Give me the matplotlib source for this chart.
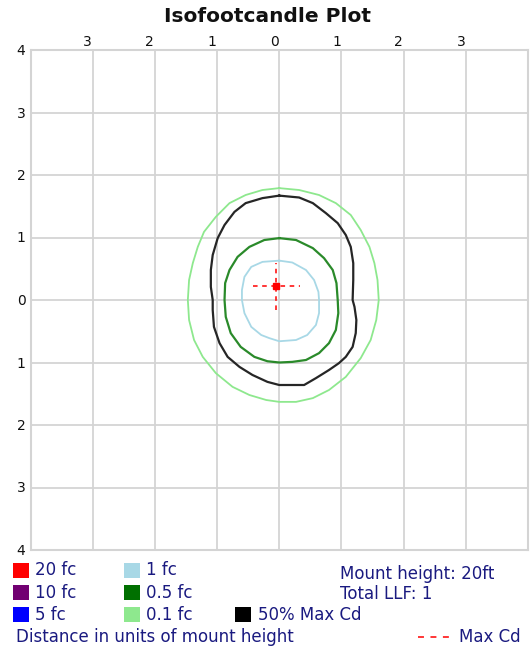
import matplotlib
matplotlib.use("Agg")
import matplotlib.pyplot as plt
from matplotlib.patches import Rectangle
from matplotlib.lines import Line2D
import matplotlib.transforms as mtransforms

# ---- data: contour outlines in units of mount height ----
lgreen_x = [0, 0.32, 0.64, 0.91, 1.15, 1.31, 1.45, 1.53, 1.58, 1.60,
            1.56, 1.47, 1.31, 1.07, 0.80, 0.54, 0.27, 0,
            -0.21, -0.48, -0.75, -1.02, -1.23, -1.37, -1.45, -1.47,
            -1.45, -1.39, -1.31, -1.21, -1.02, -0.80, -0.54, -0.27, 0]
lgreen_y = [1.79, 1.76, 1.68, 1.55, 1.36, 1.12, 0.85, 0.59, 0.32, 0,
            -0.32, -0.64, -0.93, -1.23, -1.44, -1.57, -1.63, -1.63,
            -1.60, -1.52, -1.39, -1.17, -0.91, -0.64, -0.32, 0,
            0.32, 0.59, 0.85, 1.09, 1.33, 1.55, 1.68, 1.76, 1.79]

black_x = [0, 0.32, 0.54, 0.75, 0.94, 1.07, 1.15, 1.19, 1.19, 1.18,
           1.21, 1.24, 1.23, 1.18, 1.07, 0.96, 0.80, 0.59, 0.40, 0,
           -0.19, -0.43, -0.64, -0.83, -0.96, -1.05, -1.07, -1.07,
           -1.10, -1.10, -1.07, -0.99, -0.88, -0.72, -0.54, -0.27, 0]
black_y = [1.67, 1.64, 1.55, 1.39, 1.23, 1.04, 0.85, 0.59, 0.32, 0,
           -0.11, -0.32, -0.53, -0.75, -0.91, -1.01, -1.12, -1.25, -1.36, -1.36,
           -1.31, -1.20, -1.07, -0.91, -0.69, -0.43, -0.16, 0,
           0.21, 0.48, 0.72, 0.99, 1.20, 1.41, 1.55, 1.63, 1.67]

green_x = [0, 0.27, 0.54, 0.72, 0.86, 0.92, 0.94,
           0.95, 0.91, 0.80, 0.64, 0.43, 0.21, 0,
           -0.19, -0.40, -0.62, -0.78, -0.86, -0.88,
           -0.87, -0.80, -0.67, -0.48, -0.24, 0]
green_y = [0.99, 0.96, 0.83, 0.67, 0.48, 0.27, 0,
           -0.21, -0.48, -0.69, -0.85, -0.96, -0.99, -1.00,
           -0.98, -0.91, -0.75, -0.53, -0.27, 0,
           0.27, 0.48, 0.69, 0.85, 0.96, 0.99]

blue_x = [0, 0.21, 0.43, 0.56, 0.63, 0.64,
          0.64, 0.59, 0.45, 0.27, 0,
          -0.16, -0.29, -0.45, -0.56, -0.60,
          -0.60, -0.56, -0.45, -0.27, 0]
blue_y = [0.63, 0.60, 0.48, 0.32, 0.13, 0,
          -0.21, -0.40, -0.56, -0.64, -0.66,
          -0.61, -0.56, -0.43, -0.21, 0,
          0.16, 0.37, 0.53, 0.61, 0.63]

max_cd_x = -0.05
max_cd_y = 0.22
cross_half = 0.38

tick_vals = [-3, -2, -1, 0, 1, 2, 3]
ytick_vals = [4, 3, 2, 1, 0, -1, -2, -3, -4]

legend_labels = ["20 fc", "10 fc", "5 fc", "1 fc", "0.5 fc", "0.1 fc", "50% Max Cd"]
legend_colors = ["#ff0000", "#720072", "#0000ff", "#a8d8e6", "#007000", "#8ee88e", "#000000"]

W, H = 531, 650
plt.rcParams['font.family'] = ['DejaVu Sans']
fig = plt.figure(figsize=(W / 100, H / 100), dpi=100)


def fx(px):
    return px / W


def fy(py):
    return 1 - py / H


ax = fig.add_axes([fx(30.5), fy(550), (528 - 30.5) / W, 500 / H])
ax.set_xlim(-4, 4)
ax.set_ylim(-4, 4)
grid_c = "#d4d4d4"
for s in ax.spines.values():
    s.set_color(grid_c)
    s.set_linewidth(1.5)
for v in tick_vals:
    ax.axvline(v, color=grid_c, lw=1.3, zorder=0)
for v in ytick_vals[1:-1]:
    ax.axhline(v, color=grid_c, lw=1.3, zorder=0)
ax.set_xticks([])
ax.set_yticks([])

ax.plot(lgreen_x, lgreen_y, color="#8ee88e", lw=1.3)
ax.plot(black_x, black_y, color="#262626", lw=1.6)
ax.plot(green_x, green_y, color="#2a8a2a", lw=1.6)
ax.plot(blue_x, blue_y, color="#a8d8e6", lw=1.3)

ax.plot([max_cd_x - cross_half, max_cd_x + cross_half], [max_cd_y, max_cd_y], color="#ff0000", ls=(0, (3, 3)), lw=1.1)
ax.plot([max_cd_x, max_cd_x], [max_cd_y - cross_half, max_cd_y + cross_half], color="#ff0000", ls=(0, (3, 3)), lw=1.1)
ax.plot([max_cd_x], [max_cd_y], marker="s", ms=5, color="#ff0000", ls="none")

# tick labels
offs = mtransforms.ScaledTranslation(-5 / 100, 8 / 100, fig.dpi_scale_trans)
trans = mtransforms.blended_transform_factory(ax.transData, ax.transAxes) + offs
for v in tick_vals:
    ax.text(v, 1, str(abs(v)), transform=trans, ha="center", va="center",
            fontsize=10, color="#111111", clip_on=False)
for v in ytick_vals:
    fig.text(fx(21), fy(300 - v * 62.5 + 1), str(abs(v)), ha="center", va="center",
             fontsize=10, color="#111111")

fig.text(fx(268), fy(17), "Isofootcandle Plot", ha="center", va="center",
         fontsize=14.5, fontweight="bold", color="#111111")

txt_c = "#1a1a80"
fs = 12
cols = [(13, 35), (124, 146), (235, 258)]
rows = [570, 592.5, 614.5]
positions = [(0, 0), (0, 1), (0, 2), (1, 0), (1, 1), (1, 2), (2, 2)]
for (ci, ri), lab, col in zip(positions, legend_labels, legend_colors):
    sx, tx = cols[ci]
    y = rows[ri]
    fig.patches.append(Rectangle((fx(sx), fy(y + 7.5)), 16 / W, 15 / H, transform=fig.transFigure,
                                 facecolor=col, edgecolor="none"))
    fig.text(fx(tx), fy(y), lab, ha="left", va="center", fontsize=fs, color=txt_c)

fig.text(fx(340), fy(574), "Mount height: 20ft", ha="left", va="center", fontsize=fs, color=txt_c)
fig.text(fx(340), fy(594), "Total LLF: 1", ha="left", va="center", fontsize=fs, color=txt_c)
fig.text(fx(16), fy(637), "Distance in units of mount height", ha="left", va="center",
         fontsize=fs, color=txt_c)
fig.lines.append(Line2D([fx(418), fx(450)], [fy(637), fy(637)], transform=fig.transFigure,
                        color="#ff0000", ls=(0, (3.9, 4.25)), lw=1.1))
fig.text(fx(459), fy(637), "Max Cd", ha="left", va="center", fontsize=fs, color=txt_c)

fig.savefig("out.png", dpi=100, facecolor="white")
